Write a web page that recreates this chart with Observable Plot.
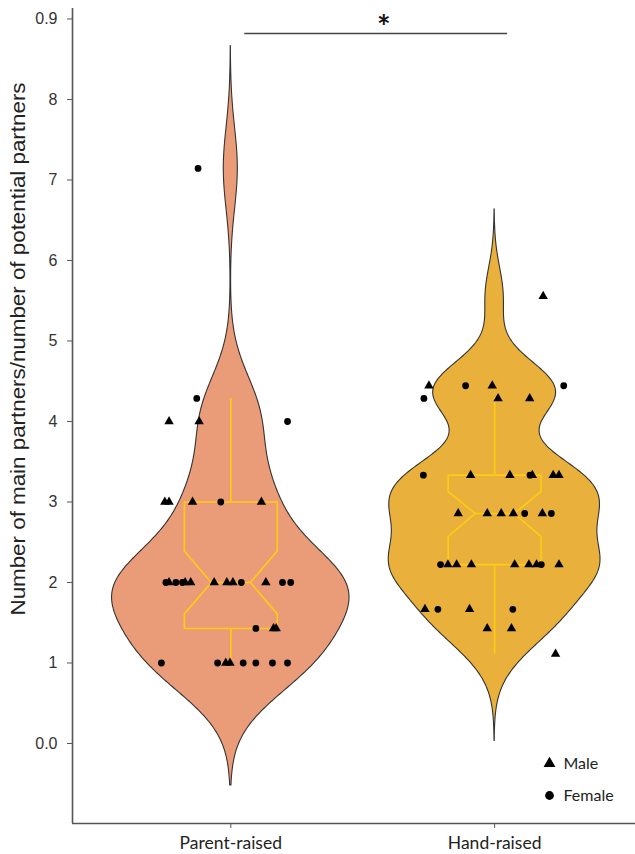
<!DOCTYPE html>
<html><head><meta charset="utf-8">
<script src="https://cdn.jsdelivr.net/npm/d3@7"></script>
<script src="https://cdn.jsdelivr.net/npm/@observablehq/plot@0.6"></script>
<style>body{margin:0;background:#fff} #chart{width:635px;height:854px}</style>
</head><body><div id="chart"></div>
<script>
// ---- data ----
const groups = ["Parent-raised", "Hand-raised"];
const groupPos = [1, 2];
const groupFill = ["#EA9B78", "#EAB03C"];
const yTicks = [0, 1, 2, 3, 4, 5, 6, 7, 8, 9];
const yTickLabels = ["0.0", "1", "2", "3", "4", "5", "6", "7", "8", "0.9"];
const yTitle = "Number of main partners/number of potential partners";

const parentValues = [7.143, 4.286, 4, 4, 4, 3, 3, 3, 3, 3,
  2, 2, 2, 2, 2, 2, 2, 2, 2, 2, 2, 2, 2,
  1.429, 1.429, 1.429, 1, 1, 1, 1, 1, 1, 1, 1];
const parentSex = ["F", "F", "M", "M", "F", "M", "M", "M", "F", "M",
  "F", "M", "F", "F", "M", "M", "M", "M", "M", "F", "M", "F", "F",
  "F", "M", "M", "F", "F", "M", "M", "F", "F", "F", "F"];
const parentJitter = [-0.124, -0.129, -0.234, -0.12, 0.215, -0.25, -0.234, -0.145, -0.038, 0.116,
  -0.246, -0.234, -0.208, -0.183, -0.173, -0.152, -0.063, -0.015, 0.008, 0.04, 0.133, 0.196, 0.227,
  0.095, 0.162, 0.172, -0.263, -0.05, -0.019, -0.003, 0.047, 0.095, 0.158, 0.215];

const handValues = [5.556, 4.444, 4.444, 4.444, 4.444, 4.286, 4.286, 4.286,
  3.333, 3.333, 3.333, 3.333, 3.333, 3.333, 3.333,
  2.857, 2.857, 2.857, 2.857, 2.857, 2.857, 2.857,
  2.222, 2.222, 2.222, 2.222, 2.222, 2.222, 2.222, 2.222, 2.222,
  1.667, 1.667, 1.667, 1.667, 1.429, 1.429, 1.111];
const handSex = ["M", "M", "F", "M", "F", "F", "M", "M",
  "F", "M", "M", "F", "M", "M", "M",
  "M", "M", "M", "M", "F", "M", "F",
  "F", "M", "M", "M", "M", "M", "M", "F", "M",
  "M", "F", "M", "F", "M", "M", "M"];
const handJitter = [0.184, -0.249, -0.11, -0.009, 0.262, -0.268, 0.013, 0.133,
  -0.27, -0.091, 0.058, 0.134, 0.143, 0.222, 0.244,
  -0.138, -0.028, 0.025, 0.071, 0.114, 0.181, 0.215,
  -0.205, -0.177, -0.144, -0.088, 0.076, 0.13, 0.159, 0.177, 0.244,
  -0.264, -0.215, -0.095, 0.069, -0.028, 0.064, 0.231];

// notched boxplot statistics, per group
const boxWhiskerLow = [1.0, 1.111];
const boxQ1 = [1.429, 2.222];
const boxMedian = [2.0, 2.857];
const boxQ3 = [3.0, 3.333];
const boxWhiskerHigh = [4.286, 4.286];
const boxNotchLow = [1.61, 2.57];
const boxNotchHigh = [2.39, 3.13];

// violin kernel bandwidths
const violinBandwidth = [0.507, 0.36];

const sexes = ["M", "F"];
const sexLabels = ["Male", "Female"];
const significance = "*";

// ---- build tables ----
const groupValues = [parentValues, handValues];
const groupSex = [parentSex, handSex];
const groupJitter = [parentJitter, handJitter];

const points = [];
groupValues.forEach((vals, g) => vals.forEach((v, i) => points.push({
  group: groups[g], x: groupPos[g] + groupJitter[g][i], y: v, sex: groupSex[g][i]
})));

function kde(values, bw) {
  const lo = d3.min(values) - 3 * bw, hi = d3.max(values) + 3 * bw, n = 512, out = [];
  for (let i = 0; i < n; i++) {
    const y = lo + (hi - lo) * i / (n - 1);
    let s = 0;
    for (const v of values) { const u = (y - v) / bw; s += Math.exp(-0.5 * u * u); }
    out.push({y, d: s / (values.length * bw * Math.sqrt(2 * Math.PI))});
  }
  return out;
}
const dens = groupValues.map((v, g) => kde(v, violinBandwidth[g]));
const maxD = d3.max(dens.flat(), d => d.d);
const violinHalf = 0.45;
const violin = [];
dens.forEach((arr, g) => arr.forEach(p => violin.push({
  group: groups[g], y: p.y,
  x1: groupPos[g] - p.d / maxD * violinHalf,
  x2: groupPos[g] + p.d / maxD * violinHalf
})));

const bw = 0.176, nw = 0.074;
const boxPath = [];
groups.forEach((name, g) => {
  const c = groupPos[g];
  const pts = [
    [c - bw, boxQ3[g]], [c + bw, boxQ3[g]], [c + bw, boxNotchHigh[g]], [c + nw, boxMedian[g]],
    [c + bw, boxNotchLow[g]], [c + bw, boxQ1[g]], [c - bw, boxQ1[g]], [c - bw, boxNotchLow[g]],
    [c - nw, boxMedian[g]], [c - bw, boxNotchHigh[g]], [c - bw, boxQ3[g]]
  ];
  pts.forEach(([x, y]) => boxPath.push({group: name, x, y}));
});
const boxStats = groups.map((name, g) => ({
  group: name, x: groupPos[g], lo: boxWhiskerLow[g], q1: boxQ1[g], med: boxMedian[g],
  q3: boxQ3[g], hi: boxWhiskerHigh[g]
}));

const legend = sexes.map((s, i) => ({sex: s, label: sexLabels[i], i}));

const xDomain = [0.4, 2.534];
const yDomain = [-0.994, 9.13];
const yellow = "#FFCC12";
const axisColor = "#555";

const chart = Plot.plot({
  width: 635, height: 854,
  marginLeft: 72, marginRight: 0, marginTop: 8, marginBottom: 31,
  style: {background: "#fff", fontFamily: "Liberation Sans", overflow: "visible"},
  x: {domain: xDomain, axis: null},
  y: {domain: yDomain, axis: null},
  color: {domain: groups, range: groupFill},
  symbol: {domain: sexes, range: ["triangle", "circle"]},
  marks: [
    Plot.areaX(violin, {y: "y", x1: "x1", x2: "x2", z: "group", fill: "group", stroke: "#333", strokeWidth: 1.1}),
    Plot.line(boxPath, {x: "x", y: "y", z: "group", stroke: yellow, strokeWidth: 1.6}),
    Plot.ruleY(boxStats, {y: "med", x1: d => d.x - nw, x2: d => d.x + nw, stroke: yellow, strokeWidth: 1.6}),
    Plot.ruleX(boxStats, {x: "x", y1: "q3", y2: "hi", stroke: yellow, strokeWidth: 1.6}),
    Plot.ruleX(boxStats, {x: "x", y1: "q1", y2: "lo", stroke: yellow, strokeWidth: 1.6}),
    Plot.dot(points.filter(d => d.sex === "F"), {x: "x", y: "y", r: 3.4, fill: "#000", stroke: "none", symbol: "sex"}),
    Plot.dot(points.filter(d => d.sex === "M"), {x: "x", y: "y", r: 3.5, fill: "#000", stroke: "none", symbol: "sex"}),
    // axes
    Plot.ruleX([xDomain[0]], {stroke: axisColor, strokeWidth: 1.6}),
    Plot.ruleY([yDomain[0]], {stroke: axisColor, strokeWidth: 1.6}),
    Plot.axisY({ticks: yTicks, tickFormat: d => yTickLabels[yTicks.indexOf(d)], tickSize: 5, tickPadding: 10,
      fontSize: 16, fontFamily: "Liberation Sans", stroke: axisColor, fill: "#333", label: null}),
    Plot.axisX({ticks: groupPos, tickFormat: d => groups[groupPos.indexOf(d)], tickSize: 5, tickPadding: 8,
      fontSize: 17.5, fontFamily: "Lato", stroke: axisColor, fill: "#222", label: null}),
    Plot.text([yTitle], {frameAnchor: "left", dx: -54, dy: -67, rotate: -90, fontSize: 20,
      fontFamily: "Liberation Sans", fill: "#222", textAnchor: "middle", lineAnchor: "middle"}),
    // significance bracket
    Plot.ruleY([8.82], {x1: groupPos[0] + 0.053, x2: groupPos[1] + 0.049, stroke: "#444", strokeWidth: 1.6}),
    Plot.text([significance], {x: (groupPos[0] + groupPos[1]) / 2 + 0.08, y: 8.82, dy: 6, fontSize: 32,
      fontWeight: "bold", fontFamily: "Lato", fill: "#111", lineAnchor: "bottom"}),
    // legend (offsets from the frame's bottom-right corner)
    Plot.dot(legend, {frameAnchor: "bottom-right", dx: -86, dy: -60, symbol: "sex", r: 4.4, fill: "#000", filter: d => d.i === 0}),
    Plot.dot(legend, {frameAnchor: "bottom-right", dx: -86, dy: -28, symbol: "sex", r: 4.4, fill: "#000", filter: d => d.i === 1}),
    Plot.text(legend, {frameAnchor: "bottom-right", dx: -72, dy: -60, text: "label", textAnchor: "start", lineAnchor: "middle",
      fontSize: 16, fontFamily: "Lato", fill: "#222", filter: d => d.i === 0}),
    Plot.text(legend, {frameAnchor: "bottom-right", dx: -72, dy: -28, text: "label", textAnchor: "start", lineAnchor: "middle",
      fontSize: 16, fontFamily: "Lato", fill: "#222", filter: d => d.i === 1})
  ]
});
document.getElementById("chart").appendChild(chart);

// stretch y title to the reference's length
d3.select(chart).selectAll("text").filter(function () { return this.textContent === yTitle; })
  .attr("textLength", 533).attr("lengthAdjust", "spacingAndGlyphs");
</script></body></html>
